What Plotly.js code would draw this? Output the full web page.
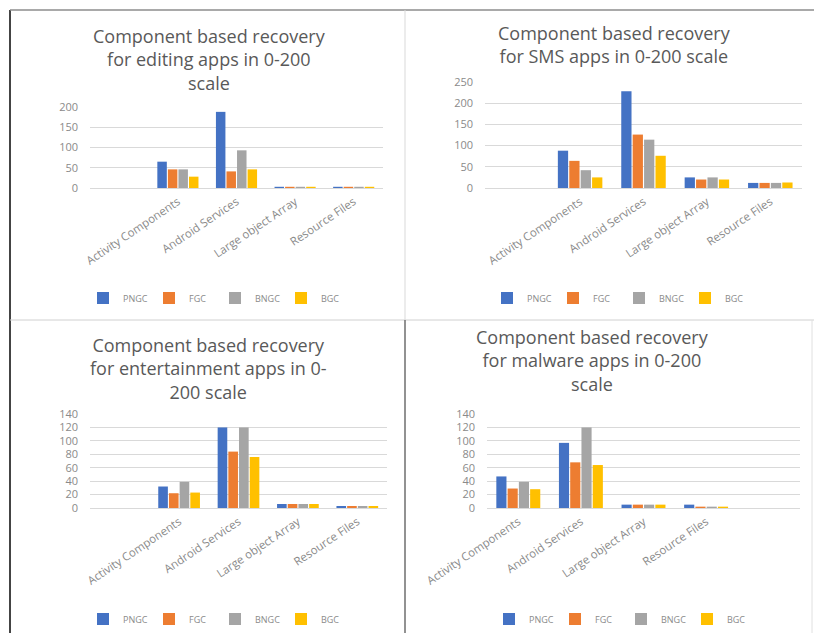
<!DOCTYPE html>
<html>
<head>
<meta charset="utf-8">
<script src="https://cdn.plot.ly/plotly-3.0.1.min.js"></script>
<style>html,body{margin:0;padding:0;background:#fff;overflow:hidden;}#chart{width:814px;height:633px;}</style>
</head>
<body>
<div id="chart"></div>
<script>
// ---- data ----
var categories = ["Activity Components", "Android Services", "Large object Array", "Resource Files"];
var seriesNames = ["PNGC", "FGC", "BNGC", "BGC"];
var seriesColors = ["#4472C4", "#ED7D31", "#A5A5A5", "#FFC000"];

var editingPNGC = [65, 188, 3, 3];
var editingFGC  = [46, 41, 3, 3];
var editingBNGC = [46, 93, 3, 3];
var editingBGC  = [28, 46, 3, 3];

var smsPNGC = [88, 228, 25, 12];
var smsFGC  = [64, 126, 20, 12];
var smsBNGC = [42, 114, 25, 12];
var smsBGC  = [25, 76, 20, 13];

var entPNGC = [32, 120, 6, 3];
var entFGC  = [22, 84, 6, 3];
var entBNGC = [39, 120, 6, 3];
var entBGC  = [23, 76, 6, 3];

var malPNGC = [47, 97, 5, 5];
var malFGC  = [29, 68, 5, 2];
var malBNGC = [39, 120, 5, 2];
var malBGC  = [28, 64, 5, 2];

var titles = [
  "Component based recovery<br>for editing apps in 0-200<br>scale",
  "Component based recovery<br>for SMS apps in 0-200 scale",
  "Component based recovery<br>for entertainment apps in 0-<br>200 scale",
  "Component based recovery<br>for malware apps in 0-200<br>scale"
];
var yMax = [200, 250, 140, 140];
var yStep = [50, 50, 20, 20];

// ---- layout helpers (pixel geometry) ----
var W = 814, H = 633;
function px(x) { return x / W; }
function py(y) { return 1 - y / H; }

var charts = [
  {data: [editingPNGC, editingFGC, editingBNGC, editingBGC], blank: "first",
   x0: 90, x1: 383, y0: 188, y1: 107, titleX: 209, titleY: 60, legX: 215, legY: 298},
  {data: [smsPNGC, smsFGC, smsBNGC, smsBGC], blank: "first",
   x0: 485, x1: 802, y0: 188, y1: 82, titleX: 614, titleY: 44, legX: 619, legY: 298},
  {data: [entPNGC, entFGC, entBNGC, entBGC], blank: "first",
   x0: 90, x1: 387, y0: 508, y1: 414, titleX: 208, titleY: 368, legX: 215, legY: 619},
  {data: [malPNGC, malFGC, malBNGC, malBGC], blank: "last",
   x0: 487, x1: 800, y0: 508, y1: 414, titleX: 592, titleY: 360, legX: 621, legY: 619}
];

var traces = [];
var layout = {
  width: W, height: H,
  margin: {l: 0, r: 0, t: 0, b: 0, autoexpand: false},
  paper_bgcolor: "#ffffff",
  plot_bgcolor: "rgba(0,0,0,0)",
  barmode: "group",
  bargap: 0.28,
  bargroupgap: 0.1,
  font: {family: "Open Sans, sans-serif", color: "#595959"},
  annotations: [],
  shapes: []
};

charts.forEach(function (c, ci) {
  var sfx = ci === 0 ? "" : String(ci + 1);
  var xcats = c.blank === "first" ? [" "].concat(categories) : categories.concat([" "]);
  for (var s = 0; s < seriesNames.length; s++) {
    var vals = c.blank === "first" ? [null].concat(c.data[s]) : c.data[s].concat([null]);
    traces.push({
      type: "bar",
      name: seriesNames[s],
      x: xcats,
      y: vals,
      xaxis: "x" + sfx,
      yaxis: "y" + sfx,
      legend: "legend" + sfx,
      marker: {color: seriesColors[s]},
      hoverinfo: "x+y+name"
    });
  }
  layout["xaxis" + sfx] = {
    domain: [px(c.x0), px(c.x1)],
    anchor: "y" + sfx,
    type: "category",
    range: [-0.5, 4.5],
    showgrid: false,
    showline: false,
    zeroline: false,
    ticks: "",
    tickangle: -34,
    ticklabelstandoff: 4,
    tickfont: {size: 11.5, color: "#8a8a8a"},
    automargin: false,
    fixedrange: true
  };
  layout["yaxis" + sfx] = {
    domain: [py(c.y0), py(c.y1)],
    anchor: "x" + sfx,
    range: [0, yMax[ci]],
    dtick: yStep[ci],
    tick0: 0,
    showgrid: true,
    gridcolor: "#D9D9D9",
    gridwidth: 1,
    zeroline: true,
    zerolinecolor: "#D9D9D9",
    zerolinewidth: 1,
    showline: false,
    ticks: "",
    ticklabelstandoff: 11,
    tickfont: {size: 11, color: "#8a8a8a"},
    automargin: false,
    fixedrange: true
  };
  layout["legend" + sfx] = {
    orientation: "h",
    x: px(c.legX), xanchor: "center",
    y: py(c.legY), yanchor: "middle",
    xref: "paper", yref: "paper",
    font: {size: 9, color: "#8a8a8a"},
    entrywidth: 21, entrywidthmode: "pixels",
    itemwidth: 30,
    bgcolor: "rgba(0,0,0,0)",
    traceorder: "normal"
  };
  layout.annotations.push({
    text: titles[ci],
    x: px(c.titleX), y: py(c.titleY),
    xref: "paper", yref: "paper",
    xanchor: "center", yanchor: "middle",
    showarrow: false,
    align: "center",
    font: {size: 18, color: "#595959", family: "Open Sans, sans-serif"}
  });
});

// frame lines of the screenshot
function line(x0, y0, x1, y1, color, w) {
  return {type: "line", xref: "paper", yref: "paper",
          x0: px(x0), y0: py(y0), x1: px(x1), y1: py(y1),
          line: {color: color, width: w}};
}
layout.shapes.push(line(10, 10, 10, 633, "#444444", 2));
layout.shapes.push(line(10, 10, 814, 10, "#8c8c8c", 1.5));
layout.shapes.push(line(10, 320, 814, 320, "#d0d0d0", 1));
layout.shapes.push(line(405, 10, 405, 320, "#d9d9d9", 1));
layout.shapes.push(line(405, 320, 405, 633, "#6e6e6e", 1.5));
layout.shapes.push(line(812, 320, 812, 633, "#e0e0e0", 1));

Plotly.newPlot("chart", traces, layout, {displayModeBar: false, staticPlot: true});
</script>
</body>
</html>
